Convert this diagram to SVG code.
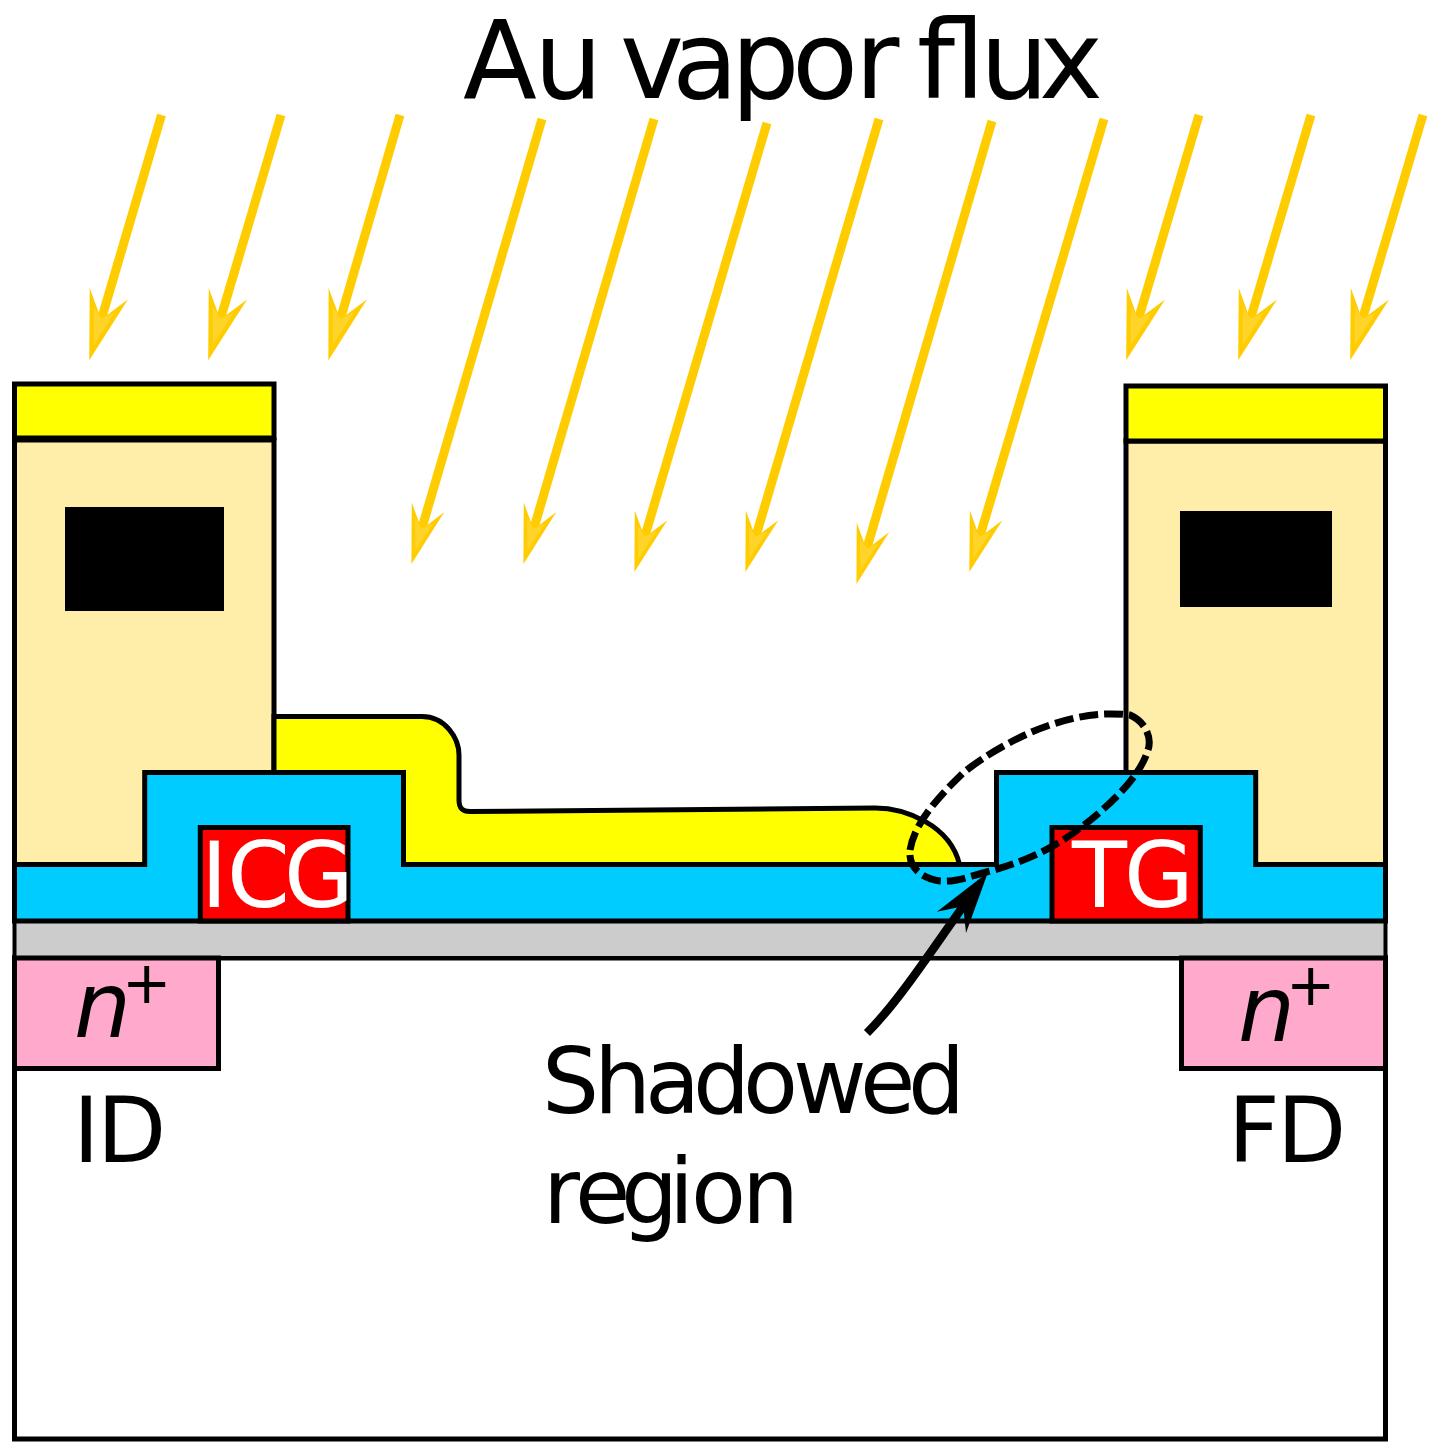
<svg xmlns="http://www.w3.org/2000/svg" width="1447" height="1450" viewBox="0 0 1447 1450">
<style>
.l{fill:none;stroke:#fc0;stroke-width:9}
.b{stroke:#000;stroke-width:5}
text{font-family:"DejaVu Sans",sans-serif;fill:#000;font-size:90px}
text.w{fill:#fff}
</style>
<defs>
<marker id="h" markerUnits="userSpaceOnUse" orient="auto" markerWidth="1" markerHeight="1" refX="-38" refY="0" overflow="visible">
<path d="M2.500,0L-67,-20L-40,0L-67,20z" fill="#fc0"/>
<path d="M-13.500,0L-50.500,-11L-41,0L-50.500,11z" fill="#ffd42a"/>
</marker>
<marker id="s" markerUnits="userSpaceOnUse" orient="auto" markerWidth="1" markerHeight="1" refX="-32" refY="0" overflow="visible">
<path d="M2,0L-57,-17L-34,0L-57,17z" fill="#fc0"/>
<path d="M-11.500,0L-43,-9.500L-35,0L-43,9.500z" fill="#ffd42a"/>
</marker>
<marker id="k" markerUnits="userSpaceOnUse" orient="auto" markerWidth="1" markerHeight="1" refX="-38" refY="0" overflow="visible">
<path d="M0,0L-62,-18L-42,0L-62,18z" fill="#000"/>
</marker>
</defs>
<rect width="1447" height="1450" fill="#fff"/>
<g id="substrate"><rect class="b" x="14.500" y="958" width="1371" height="481" fill="#fff"/></g>
<g id="pillar-left">
<rect class="b" x="14.500" y="440" width="259.500" height="430" fill="#fea"/>
<rect x="65" y="507" width="159" height="104" fill="#000"/>
<rect class="b" x="14.500" y="384" width="259.500" height="54" fill="#ff0"/>
</g>
<g id="pillar-right">
<rect class="b" x="1126" y="441" width="259.500" height="430" fill="#fea"/>
<rect x="1180" y="511" width="152" height="96" fill="#000"/>
<rect class="b" x="1126" y="386" width="259.500" height="55" fill="#ff0"/>
</g>
<g id="oxide"><rect x="14.500" y="921" width="1371" height="37" fill="#ccc" stroke="#000" stroke-width="4"/></g>
<g id="dielectric"><path class="b" d="M14.500,864.500H144.700V772.500H403.500V864.500H996.500V772.500H1255.700V864.500H1385.500V921H14.500z" fill="#0cf"/></g>
<g id="gold"><path class="b" d="M274,716.500H422C445,716.500 459,738 459,755L459,800C459,808 462,811.500 470,811.500L875,808C905,808 950,825 959.500,864.500H403.500V772.500H274z" fill="#ff0"/></g>
<g id="icg"><rect class="b" x="200.300" y="827.500" width="147.700" height="93.500" fill="#f00"/><text class="w" x="201 227 284" y="907">ICG</text></g>
<g id="tg"><rect class="b" x="1052" y="827.500" width="148.300" height="93.500" fill="#f00"/><text class="w" x="1072 1124" y="907">TG</text></g>
<g id="id-region"><rect class="b" x="14.500" y="958" width="204" height="110.500" fill="#fac"/><text y="1037"><tspan x="74" font-style="italic">n</tspan><tspan x="122" y="1003" style="font-size:59px">+</tspan></text><text x="73 97" y="1162">ID</text></g>
<g id="fd-region"><rect class="b" x="1181.500" y="958" width="204" height="110.500" fill="#fac"/><text y="1041"><tspan x="1238" font-style="italic">n</tspan><tspan x="1286" y="1005" style="font-size:59px">+</tspan></text><text x="1228 1277" y="1162">FD</text></g>
<g id="flux-label"><text y="98" style="font-size:108px"><tspan x="463">A</tspan><tspan x="534">u</tspan> <tspan x="620">v</tspan><tspan x="672">a</tspan><tspan x="731">p</tspan><tspan x="792">o</tspan><tspan x="855">r</tspan> <tspan x="917">fl</tspan><tspan x="980">u</tspan><tspan x="1039">x</tspan></text></g>
<g id="shadow-label"><text x="542 594 645 693 743 793 860 908" y="1113">Shadowed</text><text x="543 575 621 669 691 742" y="1223">region</text></g>
<g id="connectors">
<path class="l" marker-end="url(#h)" d="M161.500,115L100.700,321.500"/>
<path class="l" marker-end="url(#h)" d="M281,115L219.700,321.500"/>
<path class="l" marker-end="url(#h)" d="M400,115L339.700,321.500"/>
<path class="l" marker-end="url(#s)" d="M542,119L421,531.300"/>
<path class="l" marker-end="url(#s)" d="M654,119L533,531.300"/>
<path class="l" marker-end="url(#s)" d="M767,123L644,539.300"/>
<path class="l" marker-end="url(#s)" d="M879,119L755,539.300"/>
<path class="l" marker-end="url(#s)" d="M992,121L866,551.300"/>
<path class="l" marker-end="url(#s)" d="M1104,119L979,539.300"/>
<path class="l" marker-end="url(#h)" d="M1199,115L1137.700,321.500"/>
<path class="l" marker-end="url(#h)" d="M1311,115L1249.700,321.500"/>
<path class="l" marker-end="url(#h)" d="M1423,115L1361.700,321.500"/>
<path d="M867,1033C900,1000 935,945 965.600,903" fill="none" stroke="#000" stroke-width="8.500" marker-end="url(#k)"/>
<path d="M910,850C914,825 935,800 963,773C985,755 1020,735 1050,725C1080,715 1105,712 1130,715C1146,722 1152,738 1148,750C1142,770 1125,790 1100,812C1085,825 1070,836 1058,843C1035,857 1010,866 983,873C965,878 955,882 940,881C925,879 908,870 910,850z" fill="none" stroke="#000" stroke-width="7" stroke-dasharray="19 6"/>
</g>
</svg>
